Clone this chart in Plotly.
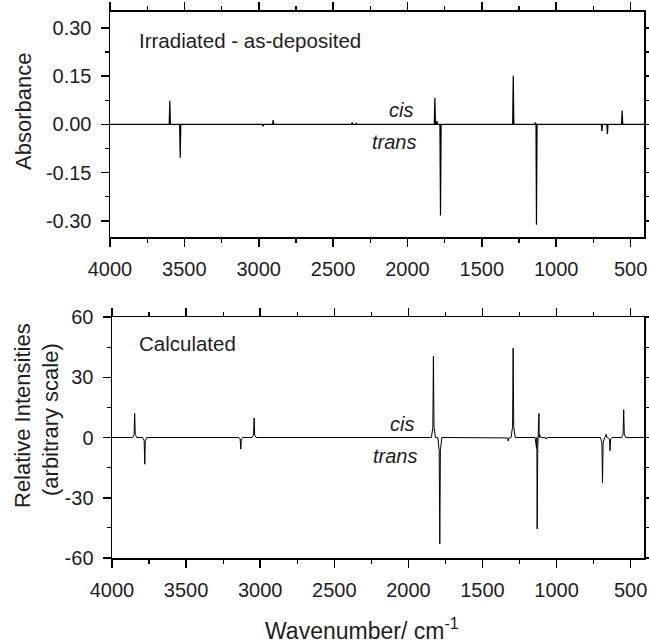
import plotly.graph_objects as go

# ---------------- data ----------------
# Top panel: experimental difference spectrum (Irradiated - as-deposited)
exp_centers = [3598, 3528, 2971, 2903, 2372, 2345, 1816, 1802, 1778, 1289, 1140, 1133, 693, 656, 557]
exp_heights = [0.073, -0.104, -0.006, 0.013, 0.006, 0.004, 0.082, 0.010, -0.283, 0.152, 0.006, -0.312, -0.021, -0.030, 0.043]

# Bottom panel: calculated spectrum (cis positive, trans negative)
calc_centers = [3847, 3779, 3131, 3041, 1831, 1788, 1326, 1293, 1131, 1119, 1070, 690, 666, 639, 547]
calc_heights = [12.0, -13.3, -5.8, 9.7, 40.5, -53.0, -1.8, 44.5, -45.5, 12.0, -0.8, -22.5, 1.6, -6.6, 13.8]

x_ticks = [4000, 3500, 3000, 2500, 2000, 1500, 1000, 500]
x_minor = [3750, 3250, 2750, 2250, 1750, 1250, 750]
y1_ticks = [-0.30, -0.15, 0.00, 0.15, 0.30]
y1_labels = ["-0.30", "-0.15", "0.00", "0.15", "0.30"]
y1_minor = [-0.225, -0.075, 0.075, 0.225]
y2_ticks = [-60, -30, 0, 30, 60]
y2_labels = ["-60", "-30", "0", "30", "60"]
y2_minor = [-45, -15, 15, 45]

X_START, X_END = 4000, 410

# ---------------- build stick polylines ----------------
def sticks(centers, heights, halfw, wing=None):
    pts = [(X_START, 0.0), (X_END, 0.0)]
    for c, h in zip(centers, heights):
        pts += [(c + halfw, 0.0), (c, h), (c - halfw, 0.0)]
        if wing is not None:
            wd, wf = wing
            pts += [(c + wd, h * wf), (c - wd, h * wf)]
    pts.sort(key=lambda p: -p[0])
    return [p[0] for p in pts], [p[1] for p in pts]

x1, y1 = sticks(exp_centers, exp_heights, 4)
x2, y2 = sticks(calc_centers, calc_heights, 14, wing=(4, 0.12))

FONT = "Liberation Sans, Arial, Helvetica, sans-serif"
TXT = "#1e1e1e"
W, H = 649, 644

fig = go.Figure()
fig.add_trace(go.Scatter(x=x1, y=y1, mode="lines", line=dict(color="black", width=1.2),
                         xaxis="x", yaxis="y", hoverinfo="skip"))
fig.add_trace(go.Scatter(x=x2, y=y2, mode="lines", line=dict(color="black", width=1),
                         xaxis="x2", yaxis="y2", hoverinfo="skip"))

def axstyle(**kw):
    d = dict(showline=True, linecolor="black", linewidth=1.5, mirror="ticks",
             ticks="outside", ticklen=8, tickwidth=1.5, tickcolor="black",
             showgrid=False, zeroline=False, automargin=False,
             tickfont=dict(family=FONT, size=20, color=TXT),
             ticklabelstandoff=5)
    d.update(kw)
    return d

def px(xp):
    return xp / W

def py(yp):
    return 1 - yp / H

xminor = dict(tickmode="array", tickvals=x_minor, ticks="outside", ticklen=4,
              tickwidth=1.2, tickcolor="black", showgrid=False)

fig.update_layout(
    width=W, height=H,
    margin=dict(l=0, r=0, t=0, b=0, pad=0, autoexpand=False),
    paper_bgcolor="white", plot_bgcolor="white",
    showlegend=False,
    xaxis=axstyle(domain=[px(110), px(644)], range=[X_START, X_END], anchor="y",
                  tickmode="array", tickvals=x_ticks, ticktext=[str(v) for v in x_ticks],
                  minor=xminor),
    yaxis=axstyle(domain=[py(237), py(11.7)], range=[-0.35, 0.35], anchor="x",
                  tickmode="array", tickvals=y1_ticks, ticktext=y1_labels,
                  minor=dict(tickmode="array", tickvals=y1_minor, ticks="outside", ticklen=4,
                             tickwidth=1.2, tickcolor="black", showgrid=False)),
    xaxis2=axstyle(domain=[px(112), px(644)], range=[X_START, X_END], anchor="y2",
                   tickmode="array", tickvals=x_ticks, ticktext=[str(v) for v in x_ticks],
                   minor=xminor),
    yaxis2=axstyle(domain=[py(558), py(317)], range=[-60, 60], anchor="x2",
                   tickmode="array", tickvals=y2_ticks, ticktext=y2_labels,
                   minor=dict(tickmode="array", tickvals=y2_minor, ticks="outside", ticklen=4,
                              tickwidth=1.2, tickcolor="black", showgrid=False)),
)

def ann(text, x, y, xanchor="center", size=20, angle=0, italic=False):
    fig.add_annotation(text=text, x=px(x), y=py(y), xref="paper", yref="paper",
                       xanchor=xanchor, yanchor="middle", showarrow=False, textangle=angle,
                       font=dict(family=FONT, size=size, color=TXT,
                                 style="italic" if italic else "normal"))

ann("Irradiated - as-deposited", 137, 41, xanchor="left", size=20.5)
ann("Calculated", 137, 343, xanchor="left", size=20.5)
ann("cis", 414.5, 110, xanchor="right", italic=True)
ann("trans", 418, 142, xanchor="right", italic=True)
ann("cis", 415.5, 424, xanchor="right", italic=True)
ann("trans", 419, 456, xanchor="right", italic=True)

ann("Absorbance", 23, 112, size=22, angle=-90)
ann("Relative Intensities", 22, 416, size=22, angle=-90)
ann("(arbitrary scale)", 50, 420, size=22, angle=-90)
ann("Wavenumber/ cm<sup>-1</sup>", 362, 629, size=23)

fig.write_html(
    "out.html",
    config={"displayModeBar": False, "staticPlot": True},
    post_script="document.body.style.margin='0';document.body.style.overflow='hidden';",
)
